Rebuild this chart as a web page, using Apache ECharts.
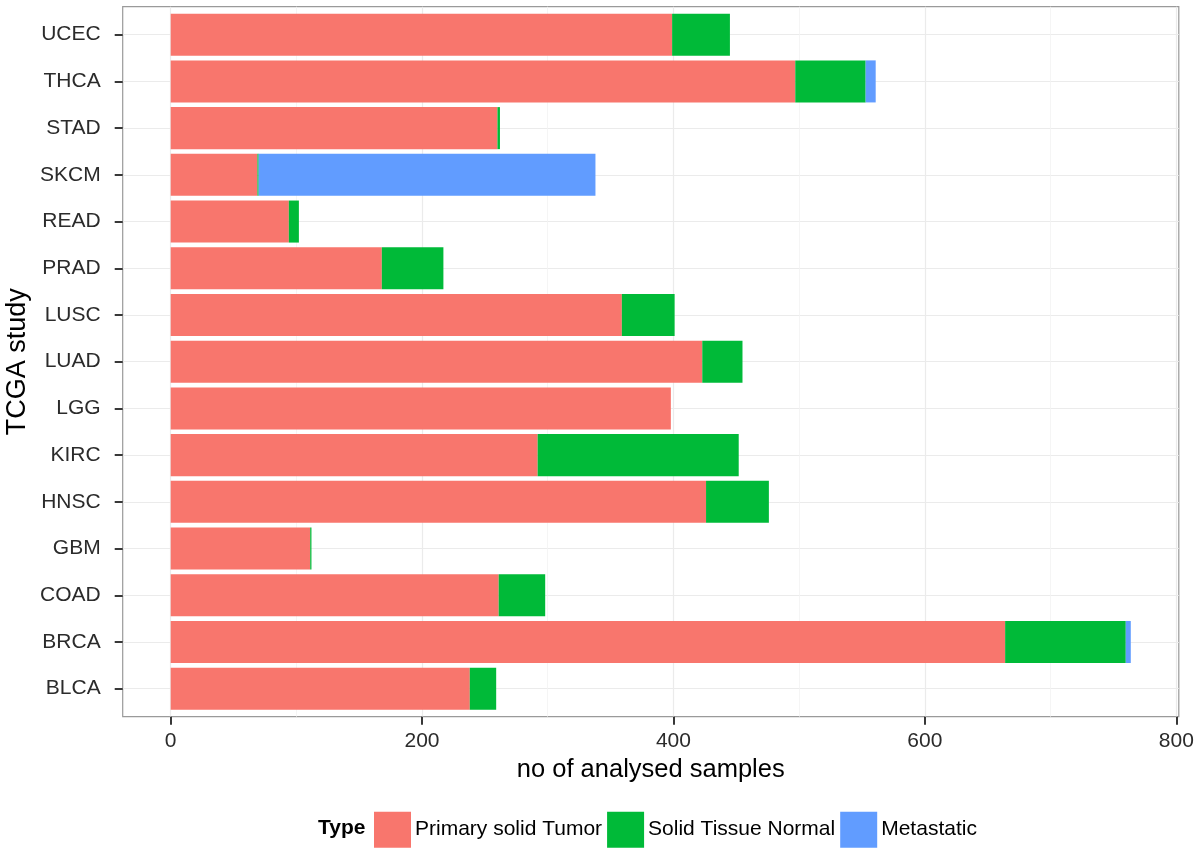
<!DOCTYPE html>
<html>
<head>
<meta charset="utf-8">
<script src="https://cdn.jsdelivr.net/npm/echarts@6/dist/echarts.min.js"></script>
<style>
html,body{margin:0;padding:0;background:#fff;}
#chart{width:1199px;height:848px;}
</style>
</head>
<body>
<div id="chart"></div>
<script>
// Categories (bottom to top, as drawn)
const studies = ['BLCA','BRCA','COAD','GBM','HNSC','KIRC','LGG','LUAD','LUSC','PRAD','READ','SKCM','STAD','THCA','UCEC'];
const primaryTumor = [238, 664, 261, 111, 426, 292, 398, 423, 359, 168, 94, 69, 260, 497, 399];
const solidNormal  = [21, 96, 37, 1, 50, 160, 0, 32, 42, 49, 8, 1, 2, 56, 46];
const metastatic   = [0, 4, 0, 0, 0, 0, 0, 0, 0, 0, 0, 268, 0, 8, 0];
const typeNames = ['Primary solid Tumor', 'Solid Tissue Normal', 'Metastatic'];

const FONT = 'Liberation Sans';
const chart = echarts.init(document.getElementById('chart'), null, {renderer: 'canvas'});

const panel = {left: 122.7, right: 20.2, top: 6.7, bottom: 131.3};

const option = {
  backgroundColor: '#ffffff',
  animation: false,
  textStyle: {fontFamily: FONT},
  title: {
    text: 'Type',
    left: 318, top: 818,
    padding: 0,
    textStyle: {fontFamily: FONT, fontSize: 21, fontWeight: 'bold', color: '#000'}
  },
  legend: {
    data: typeNames,
    left: 374, top: 811.7,
    padding: 0,
    itemWidth: 37, itemHeight: 36,
    itemGap: 5,
    icon: 'rect',
    selectedMode: false,
    textStyle: {fontFamily: FONT, fontSize: 21, color: '#000', padding: [0,0,0,-1]}
  },
  grid: [
    // bars: vertical extent runs from the first to the last category centre
    {left: panel.left, right: panel.right, top: 34.7, bottom: 848 - 688.7,
     containLabel: false, outerBoundsMode: 'none'},
    // x scale 0..800
    {left: 170.6, right: 1199 - 1176.3, top: panel.top, bottom: panel.bottom,
     containLabel: false, outerBoundsMode: 'none'},
    // panel border + axis titles
    {left: panel.left, right: panel.right, top: panel.top, bottom: panel.bottom, show: true,
     borderColor: '#9a9a9a', borderWidth: 1.2, backgroundColor: 'transparent',
     containLabel: false, outerBoundsMode: 'none'}
  ],
  xAxis: [
    {gridIndex: 0, type: 'value', min: -38.2, max: 802.2, show: false,
     axisLine: {onZero: false}},
    {gridIndex: 1, type: 'value', min: 0, max: 800, interval: 200,
     axisLine: {show: false, onZero: false},
     axisTick: {show: true, length: 8, lineStyle: {color: '#222', width: 1.8}},
     axisLabel: {show: true, margin: 14, fontSize: 21, color: '#2b2b2b', fontFamily: FONT},
     splitLine: {show: true, lineStyle: {color: '#ebebeb', width: 1.2}},
     minorTick: {show: false, splitNumber: 2},
     minorSplitLine: {show: true, lineStyle: {color: '#f2f2f2', width: 0.8}}
    },
    {gridIndex: 2, type: 'value', min: -38.2, max: 802.2,
     axisLine: {show: false, onZero: false}, axisTick: {show: false}, axisLabel: {show: false}, splitLine: {show: false},
     name: 'no of analysed samples', nameLocation: 'middle', nameGap: 40,
     nameTextStyle: {fontFamily: FONT, fontSize: 25.5, color: '#000'}
    }
  ],
  yAxis: [
    {gridIndex: 0, type: 'category', data: studies, boundaryGap: false,
     axisLine: {show: false, onZero: false},
     axisTick: {show: true, length: 8, lineStyle: {color: '#222', width: 1.8}},
     axisLabel: {margin: 22, fontSize: 21, color: '#2b2b2b', fontFamily: FONT},
     splitLine: {show: true, lineStyle: {color: '#ebebeb', width: 1.2}}
    },
    {gridIndex: 1, type: 'value', show: false, min: 0, max: 1, axisLine: {onZero: false}},
    {gridIndex: 2, type: 'value', min: 0, max: 1,
     axisLine: {show: false, onZero: false}, axisTick: {show: false}, axisLabel: {show: false}, splitLine: {show: false},
     name: 'TCGA study', nameLocation: 'middle', nameGap: 92, nameRotate: 90,
     nameTextStyle: {fontFamily: FONT, fontSize: 27, color: '#000'}
    }
  ],
  series: [
    {name: typeNames[0], type: 'bar', stack: 'n', xAxisIndex: 0, yAxisIndex: 0,
     data: primaryTumor, barWidth: '90%', clip: false, itemStyle: {color: '#F8766D'}},
    {name: typeNames[1], type: 'bar', stack: 'n', xAxisIndex: 0, yAxisIndex: 0,
     data: solidNormal, barWidth: '90%', clip: false, itemStyle: {color: '#00BA38'}},
    {name: typeNames[2], type: 'bar', stack: 'n', xAxisIndex: 0, yAxisIndex: 0,
     data: metastatic, barWidth: '90%', clip: false, itemStyle: {color: '#619CFF'}}
  ]
};
chart.setOption(option);
</script>
</body>
</html>
